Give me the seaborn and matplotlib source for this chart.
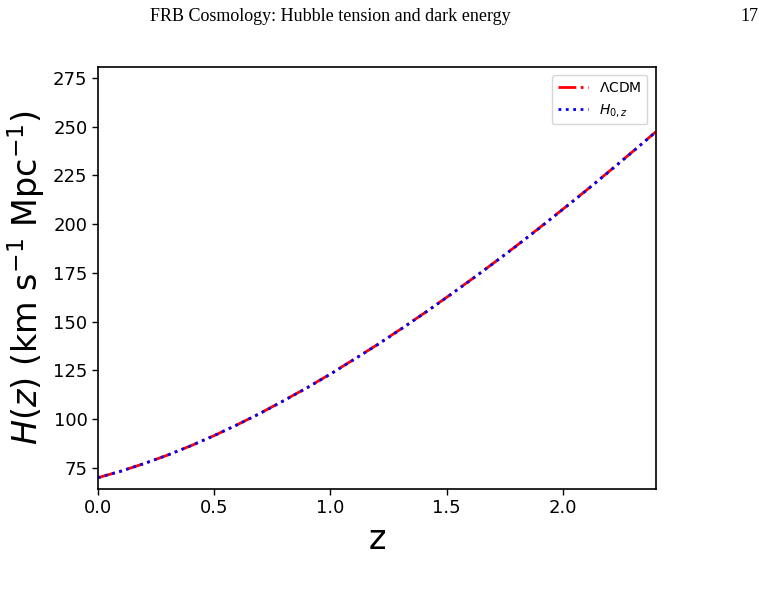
import numpy as np
import pandas as pd
import matplotlib
matplotlib.use("Agg")
import matplotlib.pyplot as plt
import seaborn as sns

# redshift grid and H(z) values
z = [0.0, 0.1, 0.2, 0.3, 0.4, 0.5, 0.6, 0.7, 0.8, 0.9, 1.0, 1.1, 1.2,
     1.3, 1.4, 1.5, 1.6, 1.7, 1.8, 1.9, 2.0, 2.1, 2.2, 2.3, 2.4]
H_lcdm = [70.0, 73.4, 77.3, 81.6, 86.4, 91.6, 97.2, 103.2, 109.6, 116.2, 123.2,
          130.6, 138.1, 146.0, 154.1, 162.5, 171.1, 179.9, 188.9, 198.2, 207.7,
          217.3, 227.2, 237.2, 247.4]
H_0z = [70.0, 73.4, 77.3, 81.6, 86.4, 91.6, 97.2, 103.1, 109.5, 116.1, 123.1,
        130.5, 138.0, 145.9, 154.0, 162.4, 171.0, 179.8, 188.8, 198.1, 207.6,
        217.2, 227.1, 237.1, 247.3]
series_names = [r"$\Lambda$CDM", r"$H_{0,z}$"]

df = pd.DataFrame({"z": z, "lcdm": H_lcdm, "h0z": H_0z})

sns.set_style("ticks")
plt.rcParams["font.family"] = ["DejaVu Sans"]
plt.rcParams["text.color"] = "black"
plt.rcParams["axes.labelcolor"] = "black"
plt.rcParams["xtick.color"] = "black"
plt.rcParams["ytick.color"] = "black"

fig = plt.figure(figsize=(7.59, 5.99), dpi=100)
ax = fig.add_axes([0.129, 0.1836, 0.735, 0.7044])

sns.lineplot(data=df, x="z", y="lcdm", ax=ax, color="red", linestyle="-.",
             linewidth=2, label=series_names[0])
sns.lineplot(data=df, x="z", y="h0z", ax=ax, color="blue", linestyle=":",
             linewidth=2, label=series_names[1])

ax.set_xlim(0, 2.4)
ax.set_ylim(64.2, 280.6)
ax.set_xticks([0.0, 0.5, 1.0, 1.5, 2.0])
ax.set_yticks([75, 100, 125, 150, 175, 200, 225, 250, 275])
ax.tick_params(labelsize=13, direction="out", length=4, width=1, colors="black")
for s in ax.spines.values():
    s.set_visible(True)
    s.set_linewidth(1.2)
    s.set_color("black")

ax.set_xlabel("z", fontsize=24)
ax.set_ylabel(r"$H(z)$ (km s$^{-1}$ Mpc$^{-1}$)", fontsize=24)

leg = ax.legend(loc="upper right", fontsize=10, frameon=True, handlelength=2.2,
                borderaxespad=0.6)
leg.get_frame().set_edgecolor("#cccccc")

# page header from the paper
fig.text(0.435, 0.972, "FRB Cosmology: Hubble tension and dark energy",
         ha="center", va="center", fontsize=13, family="Liberation Serif")
fig.text(0.987, 0.972, "17", ha="center", va="center", fontsize=13,
         family="Liberation Serif")

fig.savefig("out.png", dpi=100)
